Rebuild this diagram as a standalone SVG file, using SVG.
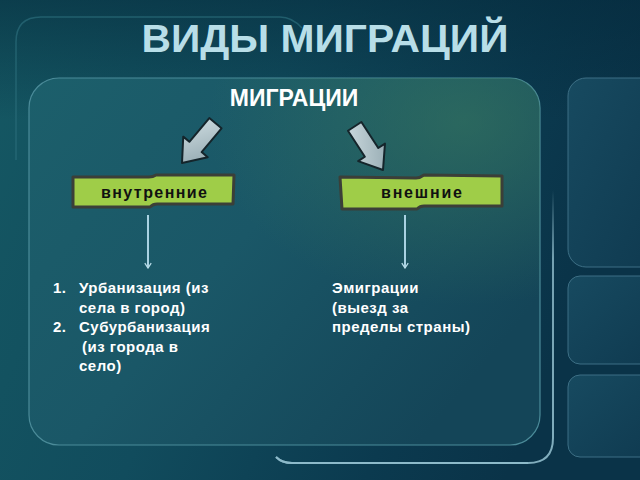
<svg xmlns="http://www.w3.org/2000/svg" width="640" height="480" viewBox="0 0 640 480">
<defs>
<linearGradient id="bg" x1="0" y1="0" x2="1" y2="0.3">
<stop offset="0" stop-color="#155863"/>
<stop offset="0.45" stop-color="#114c5d"/>
<stop offset="0.8" stop-color="#0b3a4f"/>
<stop offset="1" stop-color="#0a3348"/>
</linearGradient>
<linearGradient id="bgTop" x1="0" y1="0" x2="0" y2="1">
<stop offset="0" stop-color="#04283a" stop-opacity="0.55"/>
<stop offset="1" stop-color="#04283a" stop-opacity="0"/>
</linearGradient>
<linearGradient id="panel" x1="0" y1="0" x2="1" y2="0.6">
<stop offset="0" stop-color="#1c5f6b"/>
<stop offset="0.5" stop-color="#1a5767"/>
<stop offset="1" stop-color="#144558"/>
</linearGradient>
<radialGradient id="glow" cx="0.85" cy="0.12" r="0.5">
<stop offset="0" stop-color="#3a7a5c" stop-opacity="0.55"/>
<stop offset="1" stop-color="#3a7a5c" stop-opacity="0"/>
</radialGradient>
<linearGradient id="side" x1="0" y1="0" x2="1" y2="1">
<stop offset="0" stop-color="#174a60"/>
<stop offset="1" stop-color="#0f3a50"/>
</linearGradient>
<linearGradient id="silver" x1="0" y1="0" x2="1" y2="1">
<stop offset="0" stop-color="#d0dee2"/>
<stop offset="1" stop-color="#8ea4ac"/>
</linearGradient>
<linearGradient id="fadeV" x1="0" y1="0" x2="0" y2="1">
<stop offset="0" stop-color="#8fbccb" stop-opacity="0"/>
<stop offset="0.25" stop-color="#8fbccb" stop-opacity="0.8"/>
<stop offset="1" stop-color="#8fbccb" stop-opacity="0.9"/>
</linearGradient>
<marker id="vhead" viewBox="0 0 10 10" refX="9" refY="5" markerWidth="8" markerHeight="8" markerUnits="userSpaceOnUse" orient="auto">
<path d="M3,1 L9,5 L3,9" fill="none" stroke="#b8dce8" stroke-width="1.6"/>
</marker>
</defs>
<style>
.title{font-family:"Liberation Sans",Arial,sans-serif;font-weight:bold;fill:#b8dee8}
.head{font-family:"Liberation Sans",Arial,sans-serif;font-weight:bold;fill:#ffffff;font-size:23px}
.lbl{font-family:"Liberation Sans",Arial,sans-serif;font-weight:bold;fill:#111111;font-size:16px}
.txt{font-family:"Liberation Sans",Arial,sans-serif;font-weight:bold;fill:#ffffff;font-size:15px;letter-spacing:0.5px}
.banner{fill:#9fcd48;stroke:#3b3f38;stroke-width:3;stroke-linejoin:round}
.barrow{fill:url(#silver);stroke:#15252b;stroke-width:2;stroke-linejoin:round}
.vline{stroke:#a9d2e2;stroke-width:2;fill:none}
</style>

<!-- background -->
<rect x="0" y="0" width="640" height="480" fill="url(#bg)"/>
<rect x="0" y="0" width="640" height="120" fill="url(#bgTop)"/>
<path d="M16,160 L16,42 Q16,17 41,17 L280,17 Q292,17 302,28" fill="none" stroke="#2b6c7b" stroke-width="1.5" opacity="0.7"/>
<path d="M553,190 L553,438 Q553,463 528,463 L292,463 Q282,463 276,457" fill="none" stroke="url(#fadeV)" stroke-width="2"/>
<path d="M528,463 L292,463 Q282,463 276,457" fill="none" stroke="#8fbccb" stroke-width="2" opacity="0.85"/>

<!-- side panels -->
<rect x="568" y="78" width="90" height="189" rx="18" fill="url(#side)" stroke="#3d6f85" stroke-width="1"/>
<rect x="568" y="276" width="90" height="88" rx="12" fill="url(#side)" stroke="#3d6f85" stroke-width="1"/>
<rect x="568" y="375" width="90" height="82" rx="12" fill="url(#side)" stroke="#3d6f85" stroke-width="1"/>

<!-- main panel -->
<rect x="29" y="78" width="511" height="367" rx="30" fill="url(#panel)" stroke="#4b8b99" stroke-width="1.2"/>
<rect x="29" y="78" width="511" height="367" rx="30" fill="url(#glow)"/>

<!-- title -->
<text class="title" x="325" y="52" font-size="38" text-anchor="middle" textLength="367" lengthAdjust="spacingAndGlyphs">ВИДЫ МИГРАЦИЙ</text>

<g id="node-migrations">
<text class="head" x="294" y="106" text-anchor="middle">МИГРАЦИИ</text>
</g>

<g id="connectors">
<path class="barrow" transform="translate(182,163) rotate(40)" d="M0,0 L-16,-21 L-8,-21 L-8,-52 L8,-52 L8,-21 L16,-21 Z"/>
<path class="barrow" transform="translate(383,170) rotate(-33)" d="M0,0 L-16,-21 L-8,-21 L-8,-52 L8,-52 L8,-21 L16,-21 Z"/>
<line class="vline" x1="148" y1="215" x2="148" y2="268" marker-end="url(#vhead)"/>
<line class="vline" x1="405" y1="215" x2="405" y2="268" marker-end="url(#vhead)"/>
</g>

<g id="node-internal">
<path class="banner" d="M73,177 L149,177 Q153,177 156,175 L234,175 L233,204 L157,204 Q153,204 150,207 L73,207 Z"/>
<text class="lbl" x="101" y="198" textLength="106" lengthAdjust="spacing">внутренние</text>
</g>

<g id="node-external">
<path class="banner" d="M340,177 L416,178 Q420,178 424,175 L502,176 L502,206 L424,206 Q420,206 417,209 L342,209 Z"/>
<text class="lbl" x="381" y="198" textLength="81" lengthAdjust="spacing">внешние</text>
</g>

<g id="node-internal-list">
<text class="txt" x="53" y="293">1.</text>
<text class="txt" x="79" y="293">Урбанизация (из</text>
<text class="txt" x="79" y="312.5">села в город)</text>
<text class="txt" x="53" y="332">2.</text>
<text class="txt" x="79" y="332">Субурбанизация</text>
<text class="txt" x="82" y="351.5">(из города в</text>
<text class="txt" x="79" y="371">село)</text>
</g>

<g id="node-external-list">
<text class="txt" x="332" y="293">Эмиграции</text>
<text class="txt" x="332" y="312.5">(выезд за</text>
<text class="txt" x="332" y="332">пределы страны)</text>
</g>
</svg>
